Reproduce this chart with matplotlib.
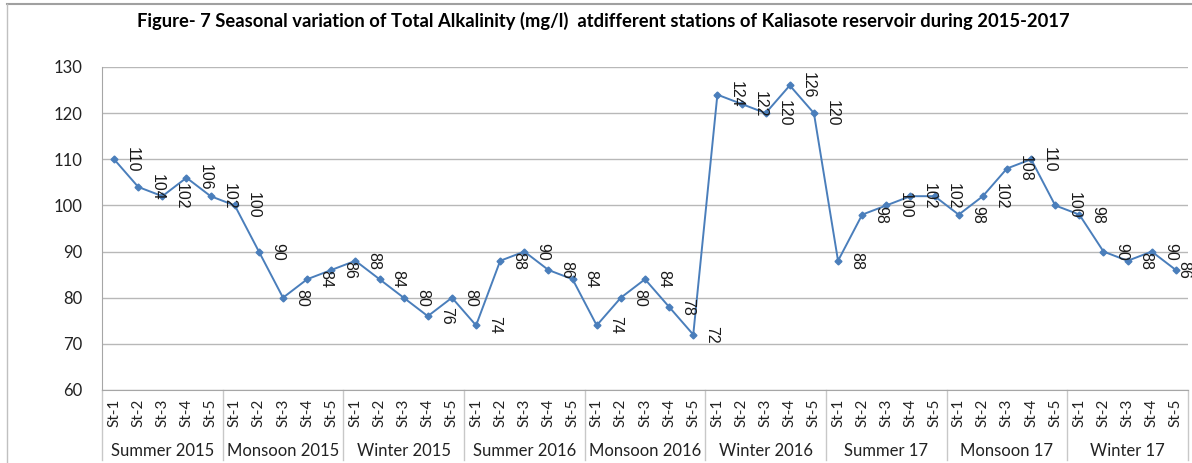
import numpy as np
import matplotlib
matplotlib.use("Agg")
import matplotlib.pyplot as plt
from matplotlib.transforms import blended_transform_factory
from matplotlib.lines import Line2D

# seasons and stations
seasons = ['Summer 2015', 'Monsoon 2015', 'Winter 2015', 'Summer 2016', 'Monsoon 2016',
           'Winter 2016', 'Summer 17', 'Monsoon 17', 'Winter 17']
stations = ['St-1', 'St-2', 'St-3', 'St-4', 'St-5']

# total alkalinity (mg/l), 5 stations per season
summer_2015 = [110, 104, 102, 106, 102]
monsoon_2015 = [100, 90, 80, 84, 86]
winter_2015 = [88, 84, 80, 76, 80]
summer_2016 = [74, 88, 90, 86, 84]
monsoon_2016 = [74, 80, 84, 78, 72]
winter_2016 = [124, 122, 120, 126, 120]
summer_17 = [88, 98, 100, 102, 102]
monsoon_17 = [98, 102, 108, 110, 100]
winter_17 = [98, 90, 88, 90, 86]

values = (summer_2015 + monsoon_2015 + winter_2015 + summer_2016 + monsoon_2016
          + winter_2016 + summer_17 + monsoon_17 + winter_17)
labels = stations * len(seasons)
x = np.arange(len(values))

fig = plt.figure(figsize=(11.92, 4.63), dpi=100)
ax = fig.add_axes([0.0856, 0.1577, 0.9110, 0.6976])

ax.plot(x, values, color='#4a7ebb', lw=1.4, marker='D', markersize=3.5)

# data labels, rotated, right of each point (last one pulled in to stay inside)
for xi, v in zip(x, values):
    off = 8 if xi < len(values) - 1 else 0.5
    ax.annotate(str(v), (xi, v), xytext=(off, 0), textcoords='offset points',
                rotation=270, ha='left', va='center', fontsize=11.5,
                family='Liberation Sans', color='#1a1a1a')

ax.set_xlim(-0.5, len(values) - 0.5)
ax.set_ylim(60, 130)
ax.set_yticks(range(60, 131, 10))
ax.yaxis.grid(True, color='#b8b8b8', lw=1)
ax.set_axisbelow(True)
for s in ['top', 'right']:
    ax.spines[s].set_visible(False)
ax.spines['left'].set_color('#a6a6a6')
ax.spines['bottom'].set_color('#a6a6a6')
ax.tick_params(axis='y', length=0, pad=14, labelsize=12, labelcolor='#222222')
ax.set_xticks(x)
ax.set_xticklabels(labels, rotation=90, fontsize=11, color='#222222')
ax.tick_params(axis='x', length=0, pad=6)
for t in ax.get_yticklabels() + ax.get_xticklabels():
    t.set_family('Lato')

# season group labels and separators
trans = blended_transform_factory(ax.transData, ax.transAxes)
for i, name in enumerate(seasons):
    ax.text(i * 5 + 2, -0.19, name, transform=trans, ha='center', va='center',
            fontsize=12, family='Lato', color='#222222')
for i in range(len(seasons) + 1):
    ax.plot([i * 5 - 0.5, i * 5 - 0.5], [0, -0.218], transform=trans,
            color='#c8c8c8', lw=1, clip_on=False)

fig.suptitle('Figure- 7 Seasonal variation of Total Alkalinity (mg/l)  atdifferent stations of Kaliasote reservoir during 2015-2017',
             x=0.506, y=0.955, va='center', fontsize=13.2, fontweight='bold', family='Lato')

# chart border
fig.add_artist(Line2D([7 / 1192, 1], [1 - 4 / 463, 1 - 4 / 463], color='#a0a0a0', lw=1.5))
fig.add_artist(Line2D([7 / 1192, 7 / 1192], [0, 1 - 4 / 463], color='#c0c0c0', lw=1))

fig.savefig('out.png', dpi=100)
